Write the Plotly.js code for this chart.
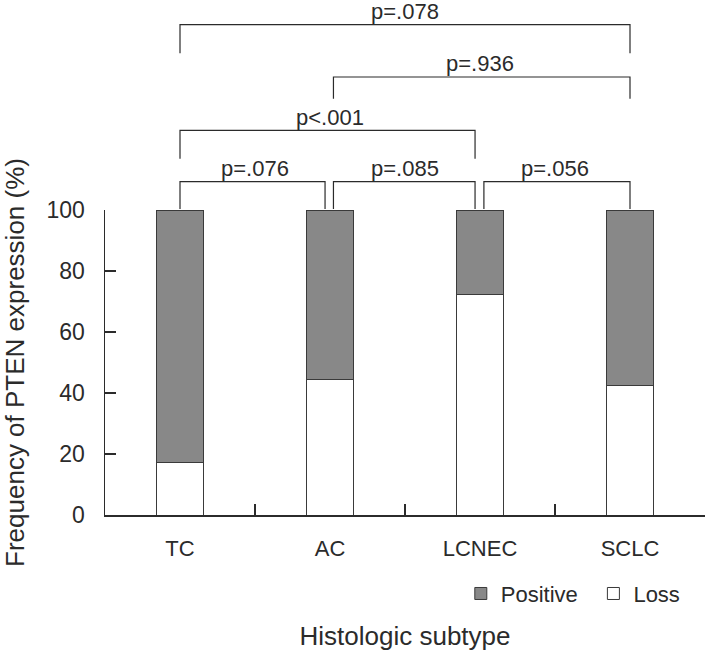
<!DOCTYPE html>
<html>
<head>
<meta charset="utf-8">
<script src="https://cdn.plot.ly/plotly-3.0.1.min.js"></script>
<style>html,body{margin:0;padding:0;background:#fff;}</style>
</head>
<body>
<div id="chart" style="width:706px;height:658px;"></div>
<script>
// ---- data ----
const categories = ["TC", "AC", "LCNEC", "SCLC"];
const lossValues = [17.1, 44.4, 72.2, 42.4];
const positiveValues = [82.9, 55.6, 27.8, 57.6];
const yTickValues = [0, 20, 40, 60, 80, 100];
// pairwise comparisons between subtypes (index into categories)
const comparisonLabels = ["p=.078", "p=.936", "p<.001", "p=.076", "p=.085", "p=.056"];
const comparisonFromIdx = [0, 1, 0, 0, 1, 2];
const comparisonToIdx = [3, 3, 2, 1, 2, 3];
// bracket heights in % units of the y scale
const bracketLevel = [160.8, 143.6, 126.1, 109.3, 109.3, 109.3];
const bracketLegBottom = [151.4, 136.5, 116.8, 100.3, 100.3, 100.3];
const bracketLeftOffset = [0, 0.023, 0, 0, 0.023, 0.026];
const bracketRightOffset = [0, 0, -0.033, -0.033, -0.033, 0];

const yMax = 100;
const font = "Liberation Sans, Arial, sans-serif";
const ink = "#2b2b2b";

const traces = [
  {
    type: "bar", name: "Loss", x: categories, y: lossValues,
    width: 0.31, legend: "legend2",
    marker: {color: "#ffffff", line: {color: "#3a3a3a", width: 1}},
    hoverinfo: "skip"
  },
  {
    type: "bar", name: "Positive", x: categories, y: positiveValues,
    width: 0.31, legend: "legend",
    marker: {color: "#888888", line: {color: "#3a3a3a", width: 1}},
    hoverinfo: "skip"
  }
];

const shapes = [];
const annotations = [];
for (let i = 0; i < comparisonLabels.length; i++) {
  const x0 = comparisonFromIdx[i] + bracketLeftOffset[i];
  const x1 = comparisonToIdx[i] + bracketRightOffset[i];
  const yl = bracketLevel[i] / yMax;
  const yb = bracketLegBottom[i] / yMax;
  shapes.push({
    type: "path", xref: "x", yref: "paper",
    path: `M ${x0} ${yb} L ${x0} ${yl} L ${x1} ${yl} L ${x1} ${yb}`,
    line: {color: ink, width: 1.2}
  });
  annotations.push({
    xref: "x", yref: "paper",
    x: (comparisonFromIdx[i] + comparisonToIdx[i]) / 2,
    y: (bracketLevel[i] + 4.3) / yMax,
    text: comparisonLabels[i], showarrow: false,
    xanchor: "center", yanchor: "middle",
    font: {family: font, size: 22, color: ink}
  });
}

const legendBase = {
  orientation: "h", xanchor: "left", y: -0.258, yanchor: "middle",
  font: {family: font, size: 22, color: ink},
  bgcolor: "rgba(0,0,0,0)"
};

const layout = {
  width: 706, height: 658,
  margin: {l: 105, r: 1, t: 210, b: 143},
  paper_bgcolor: "#ffffff", plot_bgcolor: "#ffffff",
  barmode: "stack",
  showlegend: true,
  legend: Object.assign({}, legendBase, {x: 0.593}),
  legend2: Object.assign({}, legendBase, {x: 0.814}),
  xaxis: {
    type: "category", range: [-0.5, 3.5],
    tickson: "boundaries", ticks: "inside", ticklen: 11, tickwidth: 1.2, tickcolor: ink,
    showline: true, linecolor: ink, linewidth: 1.5,
    showgrid: false, zeroline: false,
    tickfont: {family: font, size: 22, color: ink},
    ticklabelstandoff: 13,
    title: {text: "Histologic subtype", font: {family: font, size: 26, color: ink}, standoff: 67}
  },
  yaxis: {
    range: [0, yMax], tickvals: yTickValues,
    ticks: "inside", ticklen: 11, tickwidth: 1.2, tickcolor: ink,
    showline: true, linecolor: ink, linewidth: 1.5,
    showgrid: false, zeroline: false,
    tickfont: {family: font, size: 23, color: ink},
    ticklabelstandoff: 14,
    title: {text: "Frequency of PTEN expression (%)", font: {family: font, size: 26, color: ink}, standoff: 14}
  },
  shapes: shapes,
  annotations: annotations
};

Plotly.newPlot("chart", traces, layout, {displayModeBar: false, staticPlot: true});
</script>
</body>
</html>
